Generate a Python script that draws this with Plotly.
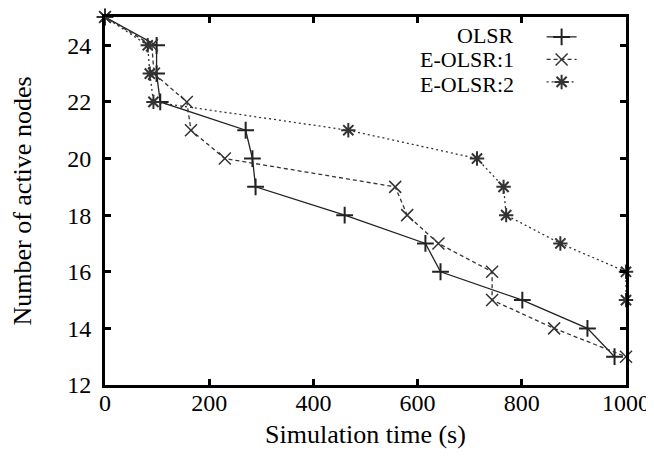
import plotly.graph_objects as go

# Data
olsr_t = [0, 99, 99, 106, 270, 283, 289, 460, 615, 644, 801, 926, 978]
olsr_n = [25, 24, 23, 22, 21, 20, 19, 18, 17, 16, 15, 14, 13]

e1_t = [0, 90, 94, 157, 165, 230, 557, 580, 640, 743, 743, 862, 1000]
e1_n = [25, 24, 23, 22, 21, 20, 19, 18, 17, 16, 15, 14, 13]

e2_t = [0, 82, 86, 93, 467, 714, 765, 770, 874, 1000, 1000]
e2_n = [25, 24, 23, 22, 21, 20, 19, 18, 17, 16, 15]

series_names = ["OLSR", "E-OLSR:1", "E-OLSR:2"]
x_ticks = [0, 200, 400, 600, 800, 1000]
y_ticks = [12, 14, 16, 18, 20, 22, 24]

FONT = "Liberation Serif"

styles = [
    dict(line=dict(color="#222222", width=1.3, dash="solid"),
         marker=dict(symbol="cross-thin-open", size=12, line=dict(color="black", width=2))),
    dict(line=dict(color="#333333", width=1.3, dash="4px,3px"),
         marker=dict(symbol="x-thin-open", size=12, line=dict(color="#333333", width=1.5))),
    dict(line=dict(color="#333333", width=1.3, dash="2px,3px"),
         marker=dict(symbol="asterisk-open", size=12, line=dict(color="black", width=2))),
]

fig = go.Figure()
for (xs, ys), name, st in zip([(olsr_t, olsr_n), (e1_t, e1_n), (e2_t, e2_n)], series_names, styles):
    fig.add_trace(go.Scatter(
        x=xs, y=ys, name=name, mode="lines+markers",
        line=st["line"], marker=st["marker"], cliponaxis=False,
        showlegend=False))
    # legend sample (text is drawn as a right-aligned annotation, gnuplot style)
    fig.add_trace(go.Scatter(
        x=[None], y=[None], name=" ", mode="lines+markers",
        line=st["line"], marker=st["marker"], showlegend=True,
        hoverinfo="skip"))

axis_common = dict(
    showline=True, linecolor="black", linewidth=3, mirror="ticks",
    ticks="inside", ticklen=6, tickwidth=3, tickcolor="black",
    showgrid=False, zeroline=False, automargin=False,
    tickfont=dict(family=FONT, size=24, color="black"),
)

fig.update_xaxes(range=[0, 1000], tickvals=x_ticks, ticklabelstandoff=-6,
                 title=dict(text="Simulation time (s)", font=dict(family=FONT, size=26, color="black"), standoff=11),
                 **axis_common)
fig.update_yaxes(range=[12, 25], tickvals=y_ticks, ticklabelstandoff=6,
                 title=dict(text="Number of active nodes", font=dict(family=FONT, size=26, color="black"), standoff=31),
                 **axis_common)

# legend text, right aligned to the left of the samples
row_y = [0.9484, 0.8832, 0.8179]
for name, yy in zip(series_names, row_y):
    fig.add_annotation(text=name, xref="paper", yref="paper", x=0.789, y=yy,
                       xanchor="right", yanchor="middle", showarrow=False,
                       font=dict(family=FONT, size=22, color="black"))

fig.update_layout(
    width=646, height=448,
    margin=dict(l=97, r=28, t=9, b=71),
    paper_bgcolor="white", plot_bgcolor="white",
    font=dict(family=FONT, size=22, color="black"),
    legend=dict(x=0.838, y=0.990, xanchor="left", yanchor="top",
                bgcolor="rgba(0,0,0,0)", borderwidth=0,
                font=dict(family=FONT, size=15, color="black"),
                tracegroupgap=0),
    showlegend=True,
)

fig.write_html("out.html")
